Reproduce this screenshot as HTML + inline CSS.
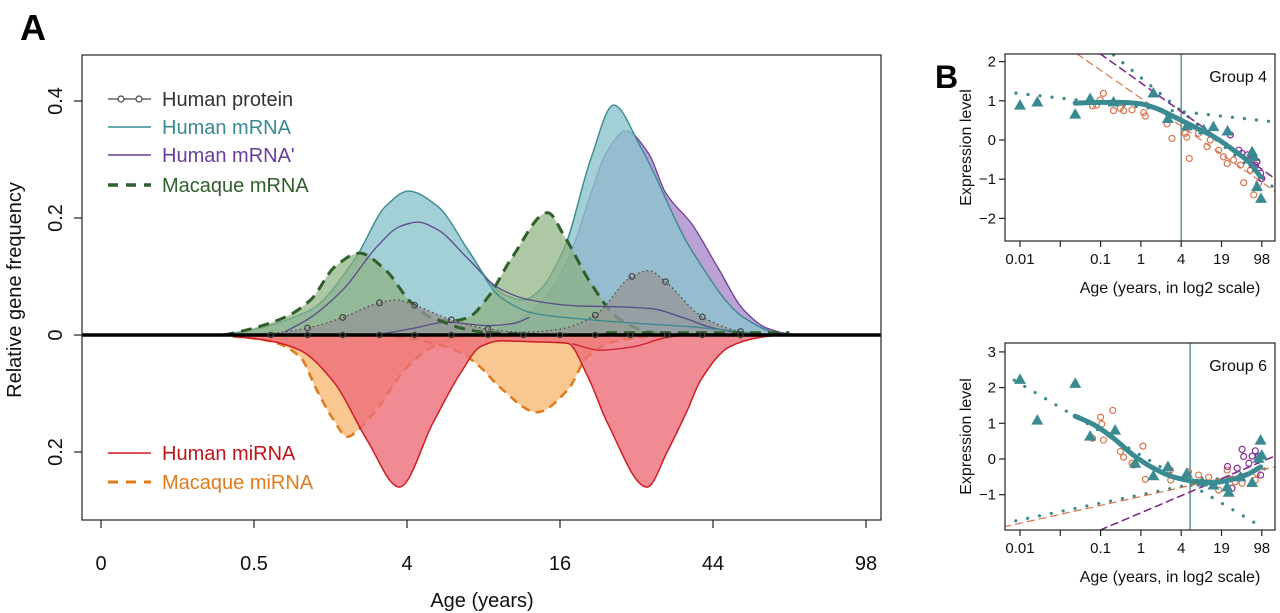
<!DOCTYPE html>
<html><head><meta charset="utf-8"><style>
html,body{margin:0;padding:0;background:#fff;}
svg{display:block;font-family:"Liberation Sans",Arial,sans-serif;}
</style></head><body>
<svg id="fig" width="1280" height="613" viewBox="0 0 1280 613" xmlns="http://www.w3.org/2000/svg">
<defs>
<clipPath id="clipA"><rect x="82" y="55" width="799" height="465"/></clipPath>
<clipPath id="clipB4"><rect x="1005" y="54" width="270" height="187"/></clipPath>
<clipPath id="clipB6"><rect x="1005" y="343" width="270" height="187"/></clipPath>
</defs>
<text x="20" y="40" font-size="36" font-weight="bold">A</text>
<text x="935" y="88" font-size="32" font-weight="bold">B</text>
<g id="gA"></g>
<g id="gB4"></g>
<g id="gB6"></g>
</svg>
<script>
// ===== Panel A data (age axis positions: 0=0,1=0.5,2=4,3=16,4=44,5=98) =====
const xTickLabels = ["0","0.5","4","16","44","98"];
const yTickVals = [0.4,0.2,0,-0.2];
const yTickLabels = ["0.4","0.2","0","0.2"];
const tealU = [0.75,0.86,1.37,1.66,1.86,2.01,2.20,2.40,2.53,2.63,2.76,2.86,3.03,3.20,3.35,3.53,3.86,4.20,4.43,4.6];
const tealV = [0,0.003,0.043,0.13,0.22,0.246,0.22,0.145,0.094,0.07,0.06,0.075,0.15,0.3,0.393,0.32,0.145,0.03,0.003,0];
const purpleU = [2.6,2.76,2.92,3.07,3.2,3.3,3.43,3.58,3.69,3.86,4.03,4.2,4.35,4.5,4.65];
const purpleV = [0.01,0.03,0.07,0.14,0.24,0.31,0.349,0.31,0.243,0.19,0.116,0.043,0.012,0.002,0];
const purple1U = [1.2,1.37,1.59,1.8,1.95,2.07,2.2,2.4,2.6,2.8,3.1,3.4,3.6,3.8,4.0,4.2];
const purple1V = [0.005,0.03,0.08,0.15,0.185,0.193,0.18,0.13,0.08,0.06,0.05,0.048,0.045,0.03,0.012,0.002];
const purple3U = [1.8,2.05,2.26,2.53,2.7,2.8];
const purple3V = [0,0.012,0.022,0.016,0.02,0.03];
const tealTailU = [2.4,2.61,2.83,3.2,3.5,3.86,4.2,4.4];
const tealTailV = [0.145,0.065,0.037,0.026,0.02,0.014,0.005,0];
const greenU = [0.8,0.86,1.2,1.37,1.53,1.69,1.86,2.03,2.2,2.29,2.40,2.53,2.69,2.92,3.03,3.20,3.37,3.53,3.7];
const greenV = [0,0.003,0.03,0.06,0.117,0.14,0.111,0.055,0.026,0.024,0.03,0.065,0.134,0.209,0.168,0.089,0.031,0.009,0];
const green2U = [2.2,2.35,2.5,2.7,2.9];
const green2V = [0.026,0.012,0.005,0.002,0];
const greenBaseU = [3.3,4.5];
const greenBaseV = [0.004,0.004];
const protU = [0.8,1.11,1.35,1.58,1.82,1.93,2.05,2.29,2.53,2.76,3.0,3.23,3.47,3.58,3.69,3.93,4.18,4.4];
const protV = [0,0.003,0.012,0.03,0.055,0.06,0.051,0.026,0.01,0.005,0.01,0.034,0.1,0.11,0.091,0.031,0.006,0];
const protMarkU = [1.35,1.58,1.82,2.05,2.29,2.53,3.23,3.47,3.69,3.93,4.18];
const protMarkV = [0.012,0.03,0.055,0.051,0.026,0.01,0.034,0.1,0.091,0.031,0.006];
const zeroMarkU = [1.11,1.35,1.58,1.82,2.05,2.29,2.53,2.76,3.0,3.23,3.46,3.70,3.93,4.18];
const redU = [0.86,1.1,1.30,1.52,1.74,1.95,2.17,2.35,2.48,2.61,2.87,3.05,3.18,3.31,3.57,3.70,3.83,3.92,4.11,4.31,4.44];
const redV = [0.002,0.01,0.026,0.08,0.18,0.26,0.15,0.065,0.02,0.01,0.012,0.014,0.07,0.15,0.26,0.2,0.13,0.077,0.02,0.004,0];
const red2U = [3.08,3.26,3.48,3.70,3.85];
const red2V = [0.015,0.026,0.02,0.004,0];
const orange1U = [0.86,1.1,1.30,1.41,1.52,1.61,1.69,1.80,2.0,2.17,2.33,2.5];
const orange1V = [0.002,0.01,0.037,0.094,0.145,0.174,0.16,0.128,0.055,0.02,0.005,0];
const orange2U = [1.82,1.97,2.17,2.35,2.48,2.61,2.85,3.05,3.18,3.37,3.7];
const orange2V = [0,0.004,0.014,0.03,0.055,0.09,0.132,0.094,0.037,0.01,0];

// ===== Panel B data (x = log2-age axis position: 0=0.01,2=0.1,3=1,4=4,5=19,6=98) =====
const bTickLabels = ["0.01","","0.1","1","4","19","98"];
const g4TriP=[0,0.43,1.37,1.74,2.32,3.31,3.67,4.14,4.56,4.8,5.15,5.76,5.88,5.98,5.8];
const g4TriV=[0.89,0.97,0.66,1.06,0.97,1.2,0.55,0.36,0.26,0.34,0.23,-0.3,-1.19,-1.49,-0.42];
const g4OrP=[2.07,1.99,1.9,1.8,2.32,2.49,2.57,2.78,3.07,3.11,3.65,3.77,4.1,4.14,4.2,4.43,4.64,4.72,4.93,5.05,5.14,5.3,5.47,5.55,5.72,5.8,5.92];
const g4OrV=[1.19,1.02,0.89,0.87,0.75,0.81,0.75,0.77,0.7,0.61,0.41,0.04,0.17,0.07,-0.47,0.17,-0.17,0,-0.26,-0.43,-0.6,-0.51,-0.64,-1.09,-0.77,-1.4,-1.1];
const g4PuP=[5.22,5.43,5.51,5.68,5.76,5.84,5.88,5.97,6.0,5.64];
const g4PuV=[0.13,-0.26,-0.34,-0.51,-0.64,-0.64,-0.55,-0.85,-0.98,-0.38];
const g4FitP=[1.37,2,2.5,3,3.4,3.81,4.31,4.8,5.3,5.72,5.97];
const g4FitV=[0.94,0.96,0.96,0.92,0.8,0.6,0.34,0.09,-0.26,-0.6,-0.94];
const g4Dot1P=[-0.4,6.4], g4Dot1V=[1.23,0.45];
const g4Dot2P=[2.32,6.4], g4Dot2V=[2.17,-1.3];
const g4DashOP=[1.41,6.4], g4DashOV=[2.2,-1.36];
const g4DashPP=[1.99,6.4], g4DashPV=[2.2,-1.04];
const g6TriP=[0,0.43,1.37,1.74,2.36,2.86,3.31,3.67,4.14,4.52,4.8,5.14,5.18,5.76,5.92,5.97,6.0,5.47];
const g6TriV=[2.23,1.09,2.12,0.64,0.81,-0.12,-0.47,-0.21,-0.4,-0.64,-0.73,-0.78,-0.93,-0.66,0.02,0.53,0.11,-0.5];
const g6OrP=[1.8,2.0,2.03,2.07,2.3,2.49,2.57,2.78,2.82,3.05,3.11,3.73,3.74,4.18,4.43,4.68,4.93,5.14,5.34,5.51,5.84,5.88];
const g6OrV=[0.58,1.17,0.98,0.53,1.36,0.21,0.05,-0.12,-0.17,0.36,-0.57,-0.31,-0.59,-0.36,-0.45,-0.51,-0.87,-0.31,-0.64,-0.68,-0.59,-0.4];
const g6PuP=[5.15,5.26,5.39,5.51,5.55,5.68,5.76,5.84,5.92,5.97];
const g6PuV=[-0.21,-0.82,-0.26,0.27,0.07,-0.12,0.08,0.23,0.08,-0.45];
const g6FitP=[1.37,1.8,2.3,2.8,3.3,3.8,4.3,4.8,5.3,5.7,5.97];
const g6FitV=[1.2,0.98,0.6,0.12,-0.25,-0.5,-0.62,-0.66,-0.56,-0.4,-0.22];
const g6Dot1P=[-0.4,5.95], g6Dot1V=[2.38,-1.87];
const g6Dot2P=[-0.4,6.4], g6Dot2V=[-1.8,-0.2];
const g6DashOP=[-0.4,6.4], g6DashOV=[-1.9,-0.2];
const g6DashPP=[1.99,6.4], g6DashPV=[-1.99,0.12];

const NS="http://www.w3.org/2000/svg";
function mk(parent, tag, attrs){const e=document.createElementNS(NS,tag);for(const k in attrs)e.setAttribute(k,attrs[k]);parent.appendChild(e);return e;}
function mono(pts){
  const n=pts.length; if(n<2) return "";
  const d=[],m=[];
  for(let i=0;i<n-1;i++) d.push((pts[i+1][1]-pts[i][1])/(pts[i+1][0]-pts[i][0]));
  m[0]=d[0]; m[n-1]=d[n-2];
  for(let i=1;i<n-1;i++){
    if(d[i-1]*d[i]<=0) m[i]=0;
    else{const h0=pts[i][0]-pts[i-1][0],h1=pts[i+1][0]-pts[i][0];m[i]=3*(h0+h1)/((2*h1+h0)/d[i-1]+(h1+2*h0)/d[i]);}
  }
  let s="M"+pts[0][0].toFixed(1)+","+pts[0][1].toFixed(1);
  for(let i=0;i<n-1;i++){
    const h=pts[i+1][0]-pts[i][0];
    s+=" C"+(pts[i][0]+h/3).toFixed(1)+","+(pts[i][1]+m[i]*h/3).toFixed(1)+" "+(pts[i+1][0]-h/3).toFixed(1)+","+(pts[i+1][1]-m[i+1]*h/3).toFixed(1)+" "+pts[i+1][0].toFixed(1)+","+pts[i+1][1].toFixed(1);
  }
  return s;
}
// ===== Panel A =====
const gA=document.getElementById('gA');
const fx=u=>101+153*u;
const fy=v=>335-585*v;
const fyN=v=>335+585*v;
const plotA=mk(gA,'g',{'clip-path':'url(#clipA)'});


function series(U,V,yf,fill,stroke,sw,dash,name){
  const pts=U.map((u,i)=>[fx(u),yf(V[i])]);
  const path=mono(pts);
  if(fill){
    const f=mk(plotA,'path',{d:path+" L"+pts[pts.length-1][0].toFixed(1)+",335 L"+pts[0][0].toFixed(1)+",335 Z",fill:fill,stroke:'none'});
    
    
  }
  const l=mk(plotA,'path',{d:path,fill:'none',stroke:stroke,'stroke-width':sw});
  if(dash) l.setAttribute('stroke-dasharray',dash);
  
  
}
series(orange1U,orange1V,fyN,'rgba(245,180,110,0.75)','#e07b1a',2.5,'9,6','macaque-mirna-1');
series(orange2U,orange2V,fyN,'rgba(245,180,110,0.75)','#e07b1a',2.5,'9,6','macaque-mirna-2');
series(redU,redV,fyN,'rgba(236,110,120,0.8)','#d01c24',1.5,null,'human-mirna');
series(red2U,red2V,fyN,null,'#d01c24',1.3,null,'human-mirna-2');
series(purpleU,purpleV,fy,'rgba(175,145,205,0.85)','#6a3d9a',1.3,null,'human-mrna-prime');
series(tealU,tealV,fy,'rgba(140,195,205,0.8)','#3a8a91',1.4,null,'human-mrna');
series(greenU,greenV,fy,'rgba(140,175,125,0.7)','#2f5f2a',3,'11,7','macaque-mrna');
series(protU,protV,fy,'rgba(150,150,150,0.75)','#444',1.2,'1.5,3','human-protein');
series(purple1U,purple1V,fy,null,'#5b4a8a',1.3,null,'human-mrna-prime-1');
series(purple3U,purple3V,fy,null,'#5b4a8a',1.3,null,'human-mrna-prime-3');
series(tealTailU,tealTailV,fy,null,'#3a8a91',1.3,null,'human-mrna-tail');
series(green2U,green2V,fy,null,'#2f5f2a',3,'11,7','macaque-mrna-2');
series(greenBaseU,greenBaseV,fy,null,'#2f5f2a',3,'11,7','macaque-mrna-base');
protMarkU.forEach((u,i)=>{const c=mk(plotA,'circle',{cx:fx(u),cy:fy(protMarkV[i]),r:2.8,fill:'none',stroke:'#444','stroke-width':1.2});

});
mk(plotA,'line',{x1:82,x2:881,y1:335,y2:335,stroke:'#000','stroke-width':3.5});
zeroMarkU.forEach(u=>{const c=mk(plotA,'circle',{cx:fx(u),cy:335,r:2.6,fill:'none',stroke:'#444','stroke-width':1.2});

});
mk(gA,'rect',{x:82,y:55,width:799,height:465,fill:'none',stroke:'#222','stroke-width':1.2});
xTickLabels.forEach((t,i)=>{
  mk(gA,'line',{x1:fx(i),x2:fx(i),y1:520,y2:528,stroke:'#222','stroke-width':1.2});
  const tx=mk(gA,'text',{x:fx(i),y:570,'font-size':20,'text-anchor':'middle',fill:'#111'});tx.textContent=t;
  
  
});
yTickVals.forEach((v,i)=>{
  const y=fy(v);
  mk(gA,'line',{x1:74,x2:82,y1:y,y2:y,stroke:'#222','stroke-width':1.2});
  const tx=mk(gA,'text',{x:62,y:y,'font-size':20,'text-anchor':'middle',fill:'#111',transform:'rotate(-90 62 '+y+')'});tx.textContent=yTickLabels[i];
  
  
});
let t=mk(gA,'text',{x:482,y:607,'font-size':20,'text-anchor':'middle',fill:'#111'});t.textContent="Age (years)";


t=mk(gA,'text',{x:21,y:290,'font-size':20,'text-anchor':'middle',fill:'#111',transform:'rotate(-90 21 290)'});t.textContent="Relative gene frequency";


// legend
const legend=[["Human protein","#444","#333",1.3,null,99,true],["Human mRNA","#3a8a91","#3a8a91",1.5,null,127,false],["Human mRNA'","#6a3d9a","#6a3d9a",1.5,null,155,false],["Macaque mRNA","#2f5f2a","#2f5f2a",3.5,"10,8",185,false],["Human miRNA","#d01c24","#c0141c",1.5,null,453,false],["Macaque miRNA","#e07b1a","#e07b1a",3,"10,8",482,false]];
legend.forEach(L=>{
  const g=mk(gA,'g',{});
  
  
  const ln=mk(g,'line',{x1:108,x2:151,y1:L[5],y2:L[5],stroke:L[1],'stroke-width':L[3]});
  if(L[4]) ln.setAttribute('stroke-dasharray',L[4]);
  if(L[6]){mk(g,'circle',{cx:121,cy:L[5],r:3,fill:'#fff',stroke:'#444','stroke-width':1.2});mk(g,'circle',{cx:139,cy:L[5],r:3,fill:'#fff',stroke:'#444','stroke-width':1.2});}
  const tx=mk(g,'text',{x:162,y:L[5]+7,'font-size':20,fill:L[2]});tx.textContent=L[0];
});
// ===== Panel B =====
function groupPlot(gid,clip,top,bottom,y0,sy,yTicks,title,vline,d){
  const g=document.getElementById(gid);
  const px=p=>1020+40.3*p, py=v=>y0-sy*v;
  const pl=mk(g,'g',{'clip-path':'url(#'+clip+')'});
  
  
  mk(pl,'line',{x1:px(vline),x2:px(vline),y1:top,y2:bottom,stroke:'#3a8a91','stroke-width':1.3});
  function straight(P,V,col,dash,w,name){const l=mk(pl,'line',{x1:px(P[0]),y1:py(V[0]),x2:px(P[1]),y2:py(V[1]),stroke:col,'stroke-width':w,'stroke-dasharray':dash,'stroke-linecap':'round'});
    
    }
  straight(d.dot1P,d.dot1V,'#3a8a91','0.1,12',3.2,'teal-dotted-fit');
  straight(d.dot2P,d.dot2V,'#3a8a91','0.1,12',3.2,'teal-dotted-fit-2');
  straight(d.dOP,d.dOV,'#d9744a','7,5',1.2,'orange-dashed-fit');
  straight(d.dPP,d.dPV,'#7a1f8a','7,5',1.5,'purple-dashed-fit');
  d.orP.forEach((p,i)=>{const c=mk(pl,'circle',{cx:px(p),cy:py(d.orV[i]),r:3,fill:'none',stroke:'#d9744a','stroke-width':1.2});
    
    });
  d.puP.forEach((p,i)=>{const c=mk(pl,'circle',{cx:px(p),cy:py(d.puV[i]),r:3,fill:'none',stroke:'#8a2a9a','stroke-width':1.2});
    
    });
  const f=mk(pl,'path',{d:mono(d.fitP.map((p,i)=>[px(p),py(d.fitV[i])])),fill:'none',stroke:'#3a8a91','stroke-width':5,'stroke-linecap':'round'});
  
  
  d.triP.forEach((p,i)=>{const x=px(p),y=py(d.triV[i]);const tr=mk(pl,'polygon',{points:(x)+","+(y-6)+" "+(x-6)+","+(y+4.5)+" "+(x+6)+","+(y+4.5),fill:'#3a8a91'});
    
    });
  mk(g,'rect',{x:1005,y:top,width:270,height:bottom-top,fill:'none',stroke:'#222','stroke-width':1.2});
  yTicks.forEach(v=>{const y=py(v);mk(g,'line',{x1:999,x2:1005,y1:y,y2:y,stroke:'#222','stroke-width':1.2});
    const tx=mk(g,'text',{x:996,y:y+5,'font-size':15,'text-anchor':'end',fill:'#111'});tx.textContent=(v<0?"\u2212"+(-v):""+v);
    
    });
  bTickLabels.forEach((lab,i)=>{mk(g,'line',{x1:px(i),x2:px(i),y1:bottom,y2:bottom+6,stroke:'#222','stroke-width':1.2});
    const tx=mk(g,'text',{x:px(i),y:bottom+23,'font-size':15,'text-anchor':'middle',fill:'#111'});tx.textContent=lab;
    
    });
  let tx=mk(g,'text',{x:1170,y:bottom+52,'font-size':16,'text-anchor':'middle',fill:'#111'});tx.textContent="Age (years, in log2 scale)";
  
  
  const cy=(top+bottom)/2;
  tx=mk(g,'text',{x:971,y:cy,'font-size':16,'text-anchor':'middle',fill:'#111',transform:'rotate(-90 971 '+cy+')'});tx.textContent="Expression level";
  
  
  tx=mk(g,'text',{x:1267,y:top+28,'font-size':16,'text-anchor':'end',fill:'#111'});tx.textContent=title;
  
  
}
groupPlot('gB4','clipB4',54,241,140,39.2,[2,1,0,-1,-2],"Group 4",4,
 {triP:g4TriP,triV:g4TriV,orP:g4OrP,orV:g4OrV,puP:g4PuP,puV:g4PuV,fitP:g4FitP,fitV:g4FitV,dot1P:g4Dot1P,dot1V:g4Dot1V,dot2P:g4Dot2P,dot2V:g4Dot2V,dOP:g4DashOP,dOV:g4DashOV,dPP:g4DashPP,dPV:g4DashPV});
groupPlot('gB6','clipB6',343,530,459,35.7,[3,2,1,0,-1],"Group 6",4.22,
 {triP:g6TriP,triV:g6TriV,orP:g6OrP,orV:g6OrV,puP:g6PuP,puV:g6PuV,fitP:g6FitP,fitV:g6FitV,dot1P:g6Dot1P,dot1V:g6Dot1V,dot2P:g6Dot2P,dot2V:g6Dot2V,dOP:g6DashOP,dOV:g6DashOV,dPP:g6DashPP,dPV:g6DashPV});
</script>
</body></html>
